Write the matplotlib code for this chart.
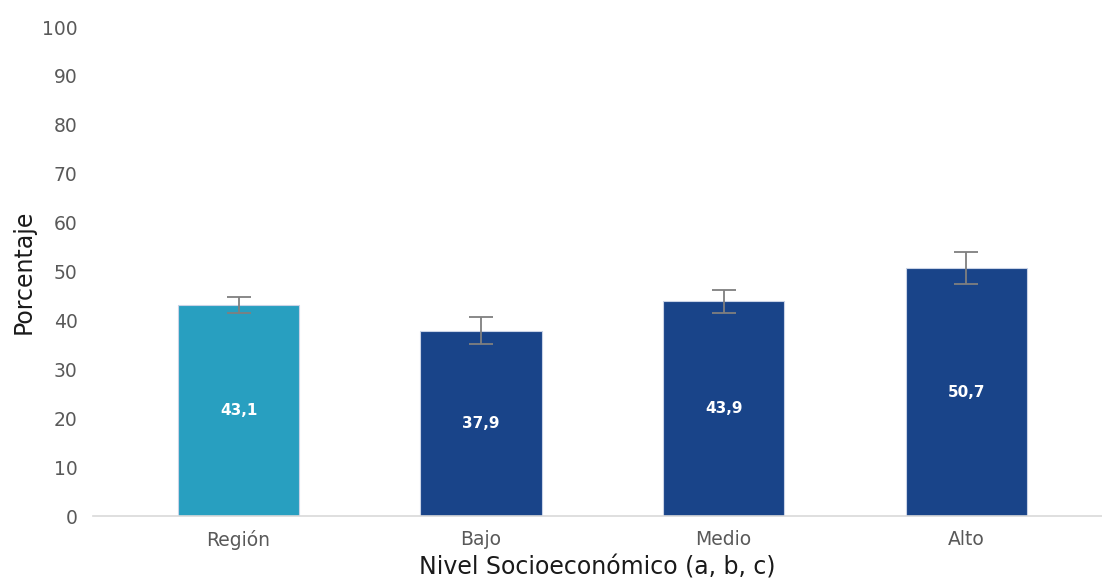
import numpy as np
import matplotlib.pyplot as plt

# Datos
categorias = ["Región", "Bajo", "Medio", "Alto"]
valores = [43.1, 37.9, 43.9, 50.7]
error = [1.6, 2.7, 2.3, 3.3]
colores = ["#289fc0", "#194489", "#194489", "#194489"]

plt.rcParams['font.family'] = ['DejaVu Sans']

fig = plt.figure(figsize=(11.02, 5.87), dpi=100)
ax = fig.add_axes([93 / 1102, 1 - 516 / 587, 1 - 93 / 1102, (516 - 27) / 587])

x = np.arange(len(categorias))
ax.bar(x, valores, width=0.5, color=colores, edgecolor="#c9d3e6", linewidth=0.8,
       yerr=error, error_kw=dict(ecolor="#7f7f7f", elinewidth=1.3, capsize=8.5, capthick=1.3))

# Etiquetas de valor dentro de las barras
for i, v in enumerate(valores):
    ax.text(i, v / 2, f"{v:.1f}".replace(".", ","), color="white", ha="center", va="center",
            fontsize=11, fontweight="bold")

ax.set_xlim(-0.6, 3.56)
ax.set_ylim(0, 100)
ax.set_yticks(range(0, 101, 10))
ax.set_xticks(x)
ax.set_xticklabels(categorias)

ax.tick_params(axis="both", length=0, labelsize=13.5, labelcolor="#595959")
ax.tick_params(axis="y", pad=11)
ax.tick_params(axis="x", pad=10)

for s in ["top", "right", "left"]:
    ax.spines[s].set_visible(False)
ax.spines["bottom"].set_color("#d9d9d9")
ax.spines["bottom"].set_linewidth(1.2)

ax.set_ylabel("Porcentaje", fontsize=17, color="#1a1a1a", labelpad=5)
ax.set_xlabel("Nivel Socioeconómico (a, b, c)", fontsize=17, color="#1a1a1a", labelpad=4)

fig.savefig("out.png", dpi=100)
